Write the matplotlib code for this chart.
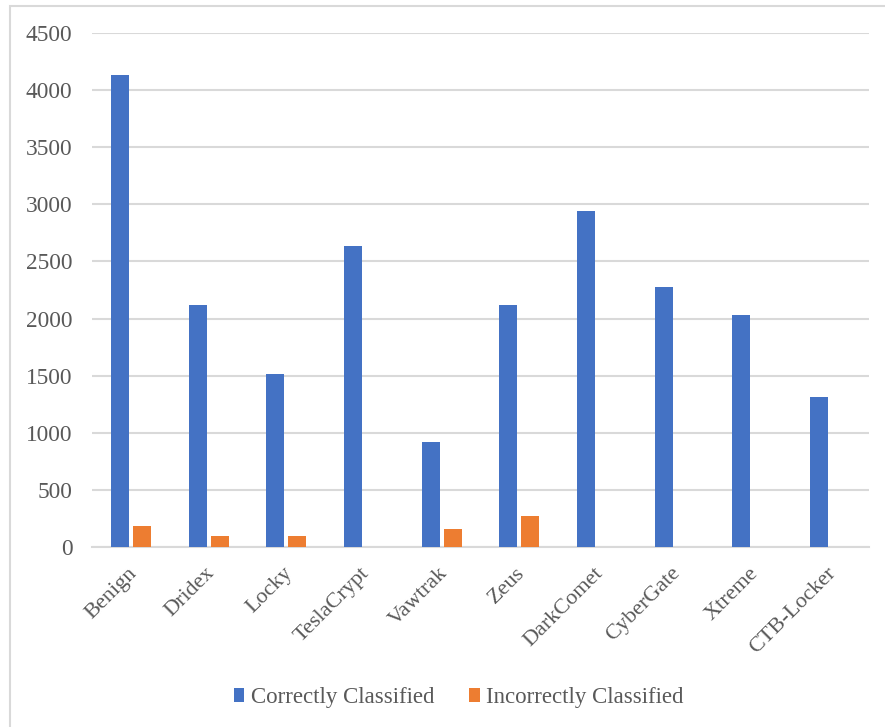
import matplotlib.pyplot as plt
import matplotlib.transforms as mtransforms
import numpy as np
from matplotlib.patches import Rectangle

families = ["Benign", "Dridex", "Locky", "TeslaCrypt", "Vawtrak", "Zeus",
            "DarkComet", "CyberGate", "Xtreme", "CTB-Locker"]
correct = [4135, 2115, 1515, 2635, 915, 2115, 2940, 2280, 2035, 1310]
incorrect = [187, 93, 93, 0, 158, 275, 0, 0, 0, 0]
series_names = ["Correctly Classified", "Incorrectly Classified"]

plt.rcParams["font.family"] = ["Liberation Serif", "DejaVu Serif"]
text_col = "#595959"
grid_col = "#d9d9d9"

fig = plt.figure(figsize=(8.85, 7.27), dpi=100)
ax = fig.add_axes([92 / 885, 1 - 547 / 727, (869 - 92) / 885, (547 - 33) / 727])

x = np.arange(len(families))
w = 0.232
off = 0.1416
ax.bar(x - off, correct, w, color="#4472C4", label=series_names[0], zorder=3)
ax.bar(x + off, incorrect, w, color="#ED7D31", label=series_names[1], zorder=3)

ax.set_xlim(-0.5, len(families) - 0.5)
ax.set_ylim(0, 4500)
ax.set_yticks(np.arange(0, 4501, 500))
ax.grid(axis="y", color=grid_col, linewidth=1.5, zorder=0)
for s in ["top", "right", "left"]:
    ax.spines[s].set_visible(False)
ax.spines["bottom"].set_color(grid_col)
ax.spines["bottom"].set_linewidth(1.5)
ax.tick_params(axis="y", length=0, labelsize=16.8, colors=text_col, pad=14)
ax.set_xticks(x)
ax.set_xticklabels(families, rotation=45, ha="right", va="center",
                   rotation_mode="anchor")
ax.tick_params(axis="x", length=0, labelsize=16, colors=text_col, pad=17)
shift = mtransforms.ScaledTranslation(3 / 100, 0, fig.dpi_scale_trans)
for lbl in ax.get_xticklabels():
    lbl.set_transform(lbl.get_transform() + shift)

# chart frame
fig.patches.append(Rectangle((10 / 885, -0.05), 1.0, 1 - 6 / 727 + 0.05,
                             transform=fig.transFigure, fill=False,
                             edgecolor=grid_col, linewidth=1.5))

leg = fig.legend(loc="center", bbox_to_anchor=(459 / 885, 1 - 698 / 727),
                 ncol=2, frameon=False, fontsize=16.5, handlelength=0.45,
                 handleheight=0.55, handletextpad=0.3, columnspacing=1.5)
for t in leg.get_texts():
    t.set_color(text_col)

fig.savefig("out.png", dpi=100)
